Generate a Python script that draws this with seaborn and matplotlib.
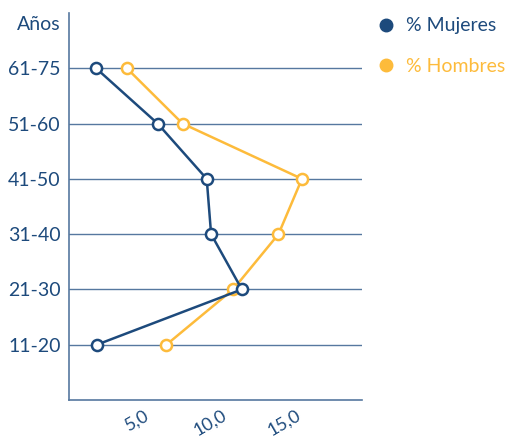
import matplotlib
matplotlib.use('Agg')
import matplotlib.pyplot as plt
import matplotlib.transforms as mtransforms
import seaborn as sns
from matplotlib.lines import Line2D

grupos = ['11-20', '21-30', '31-40', '41-50', '51-60', '61-75']
mujeres = [1.9, 11.8, 9.7, 9.4, 6.05, 1.85]
hombres = [6.65, 11.2, 14.3, 15.9, 7.75, 3.95]
xticks = [5, 10, 15]
xlabels = ['5,0', '10,0', '15,0']

azul = '#1d4a7c'
amarillo = '#fdbb3b'
rejilla = '#56789f'

sns.set_style('white')
plt.rcParams['font.family'] = ['Lato', 'DejaVu Sans']

fig = plt.figure(figsize=(5.12, 4.41), dpi=100)
ax = fig.add_axes([69/512, 1-400/441, (362-69)/512, (400-13)/441])

pos = list(range(len(grupos)))
for p in pos:
    ax.axhline(p, color=rejilla, lw=1, zorder=1)

sns.lineplot(x=hombres, y=pos, sort=False, orient='y', estimator=None, color=amarillo,
             lw=1.8, marker='o', markersize=8, markerfacecolor='white',
             markeredgecolor=amarillo, markeredgewidth=1.8, ax=ax, zorder=3)
sns.lineplot(x=mujeres, y=pos, sort=False, orient='y', estimator=None, color=azul,
             lw=1.8, marker='o', markersize=8, markerfacecolor='white',
             markeredgecolor=azul, markeredgewidth=1.8, ax=ax, zorder=4)

ax.set_xlim(0, 20)
ax.set_ylim(-1, 6)
ax.set_yticks(pos)
ax.set_yticklabels(grupos, fontsize=14, color=azul)
ax.set_xticks(xticks)
ax.set_xticklabels(xlabels, fontsize=13, color=azul, rotation=30, ha='center')
ax.tick_params(length=0, axis='y', pad=6)
ax.tick_params(length=0, axis='x', pad=5)
shift = mtransforms.ScaledTranslation(-5/100, 0, fig.dpi_scale_trans)
for lab in ax.get_xticklabels():
    lab.set_transform(lab.get_transform() + shift)
for s in ['top', 'right']:
    ax.spines[s].set_visible(False)
for s in ['left', 'bottom']:
    ax.spines[s].set_color(rejilla)
    ax.spines[s].set_linewidth(1.2)

fig.text(61/512, 1-25/441, 'Años', ha='right', va='center', fontsize=14, color=azul)

handles = [Line2D([], [], ls='none', marker='o', color=azul, markersize=9),
           Line2D([], [], ls='none', marker='o', color=amarillo, markersize=9)]
leg = fig.legend(handles, ['% Mujeres', '% Hombres'], loc='upper left',
                 bbox_to_anchor=(357/512, 1.0), frameon=False, fontsize=14,
                 labelspacing=1.2, handletextpad=0.4, handlelength=1.2)
for t, c in zip(leg.get_texts(), [azul, amarillo]):
    t.set_color(c)

fig.savefig('out.png', dpi=100)
